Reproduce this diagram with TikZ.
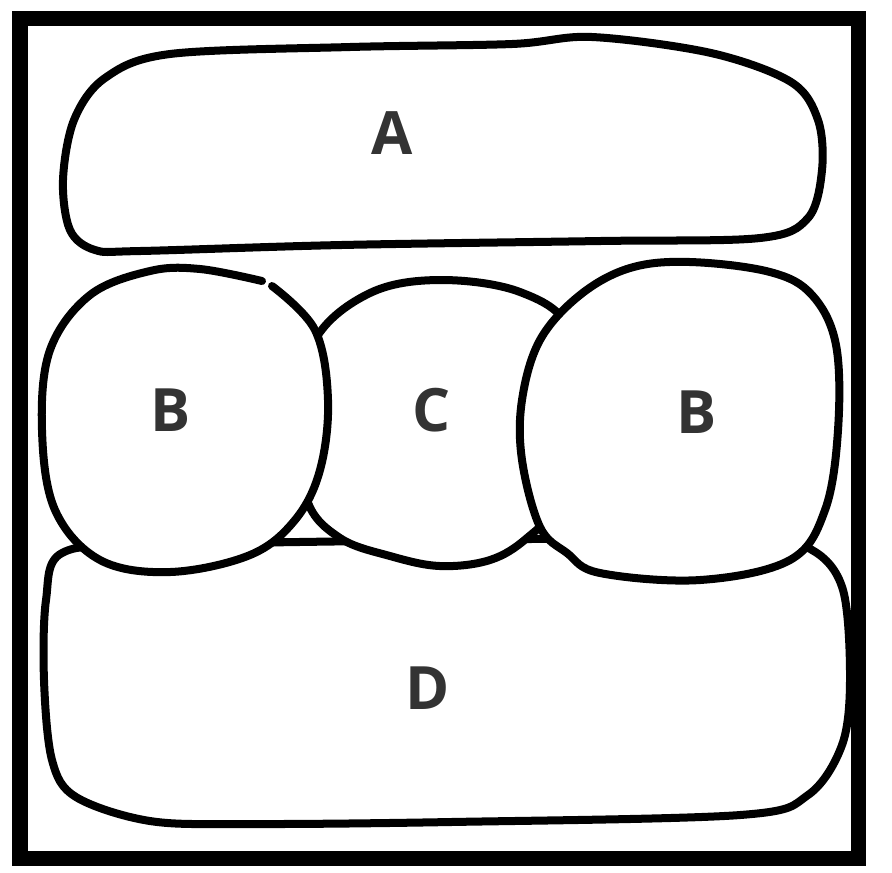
\documentclass[tikz,border=0pt]{standalone}
\usepackage{fontspec}
\setmainfont{Open Sans}
\definecolor{lettergray}{HTML}{333333}
\begin{document}
\begin{tikzpicture}[x=0.01cm, y=-0.01cm,
  blob/.style={draw=black, fill=white, line width=0.08cm, line join=round, line cap=round},
  lbl/.style={font=\fontsize{17}{17}\selectfont\bfseries, text=lettergray}]
\useasboundingbox (0,0) rectangle (892,872);
% outer frame
\draw[line width=0.15cm] (20,18) rectangle (858,858);
% top blob
\draw[blob] plot[smooth cycle, tension=0.55] coordinates {(170,54) (350,47) (512,44) (592,37) (711,53) (791,82) (818,120) (822,170) (808,218) (760,238) (600,241) (341,245) (140,251) (95,250) (70,230) (63,180) (74,120) (105,78)};
\node[lbl] (labA) at (392,133) {A};
% bottom blob, first so the round ones sit on it
\draw[blob] plot[smooth cycle, tension=0.55] coordinates {(62,553) (150,545) (450,540) (750,538) (812,550) (843,590) (850,680) (842,745) (808,795) (740,815) (450,822) (250,824) (150,821) (76,797) (52,760) (44,680) (46,600)};
\node[lbl] (labD) at (428,688) {D};
% middle circle, behind both B's
\draw[blob] plot[smooth cycle, tension=0.6] coordinates {(440,280) (520,292) (570,330) (580,420) (560,500) (527,538) (490,560) (440,566) (390,556) (340,538) (307,500) (300,420) (315,340) (370,293)};
\node[lbl] (labC) at (432,410) {C};
% left B, with the small break at the top
\fill[white] plot[smooth cycle, tension=0.6] coordinates {(200,269) (268,283) (315,330) (328,400) (320,470) (295,520) (250,555) (170,572) (100,560) (55,510) (42,430) (50,350) (90,295) (150,271)};
\draw[blob, fill=none] plot[smooth, tension=0.6] coordinates {(272,286) (315,330) (328,400) (320,470) (295,520) (250,555) (170,572) (100,560) (55,510) (42,430) (50,350) (90,295) (150,271) (200,269) (262,281)};
\node[lbl] (labBl) at (171,410) {B};
% right B
\draw[blob] plot[smooth cycle, tension=0.6] coordinates {(690,262) (770,272) (812,295) (836,345) (838,430) (825,510) (790,560) (700,580) (600,573) (567,553) (540,527) (522,460) (522,400) (540,340) (580,295) (630,268)};
\node[lbl] (labBr) at (697,412) {B};
\end{tikzpicture}
\end{document}
